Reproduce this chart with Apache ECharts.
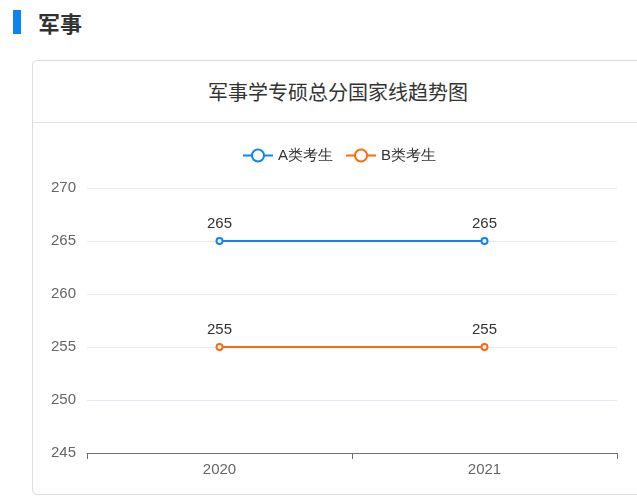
<!DOCTYPE html>
<html><head><meta charset="utf-8">
<script src="https://cdn.jsdelivr.net/npm/echarts@6/dist/echarts.min.js"></script>
<style>
html,body{margin:0;padding:0;width:637px;height:496px;overflow:hidden;background:#fff;font-family:"Noto Sans CJK SC","Noto Sans",sans-serif;}
#bar{position:absolute;left:13px;top:10px;width:8px;height:24px;background:#0a84f0;}
#head{position:absolute;left:38px;top:6px;font-size:22px;font-weight:bold;color:#333;line-height:32px;}
#card{position:absolute;left:32px;top:60px;width:620px;height:435px;border:1px solid #ddd;border-radius:5px;box-sizing:border-box;}
#ctitle{position:absolute;left:0;top:0;width:610px;height:61px;line-height:62px;text-align:center;font-size:20px;color:#333;border-bottom:1px solid #e4e4e4;}
#chart{position:absolute;left:0;top:0;width:637px;height:496px;}
</style></head>
<body>
<div id="bar"></div><div id="head">军事</div>
<div id="card"><div id="ctitle">军事学专硕总分国家线趋势图</div></div>
<div id="chart"></div>
<script>
var years = ['2020', '2021'];
var seriesNames = ['A类考生', 'B类考生'];
var scoresA = [265, 265];
var scoresB = [255, 255];
var colors = ['#0e85f3', '#ff6a0c'];

var chart = echarts.init(document.getElementById('chart'));
function mk(name, data, color) {
  return {
    name: name, type: 'line', data: data,
    symbol: 'emptyCircle', symbolSize: 6,
    lineStyle: {width: 2, color: color},
    itemStyle: {color: color, borderWidth: 2},
    label: {show: true, position: 'top', distance: 6, color: '#333', fontSize: 15}
  };
}
chart.setOption({
  animation: false,
  color: colors,
  legend: {
    top: 143, left: 237, itemWidth: 30, itemHeight: 15, itemGap: 12,
    textStyle: {color: '#333', fontSize: 15},
    data: seriesNames
  },
  grid: {left: 87, right: 20, top: 188, bottom: 43},
  xAxis: {
    type: 'category', data: years, boundaryGap: true,
    axisLine: {lineStyle: {color: '#6e7079'}},
    axisTick: {show: true, length: 6, lineStyle: {color: '#6e7079'}},
    axisLabel: {color: '#666', fontSize: 15, margin: 9}
  },
  yAxis: {
    type: 'value', min: 245, max: 270, interval: 5,
    axisLabel: {color: '#666', fontSize: 15, margin: 11},
    splitLine: {lineStyle: {color: '#e6e9f2'}}
  },
  series: [mk(seriesNames[0], scoresA, colors[0]), mk(seriesNames[1], scoresB, colors[1])]
});
</script>
</body></html>
